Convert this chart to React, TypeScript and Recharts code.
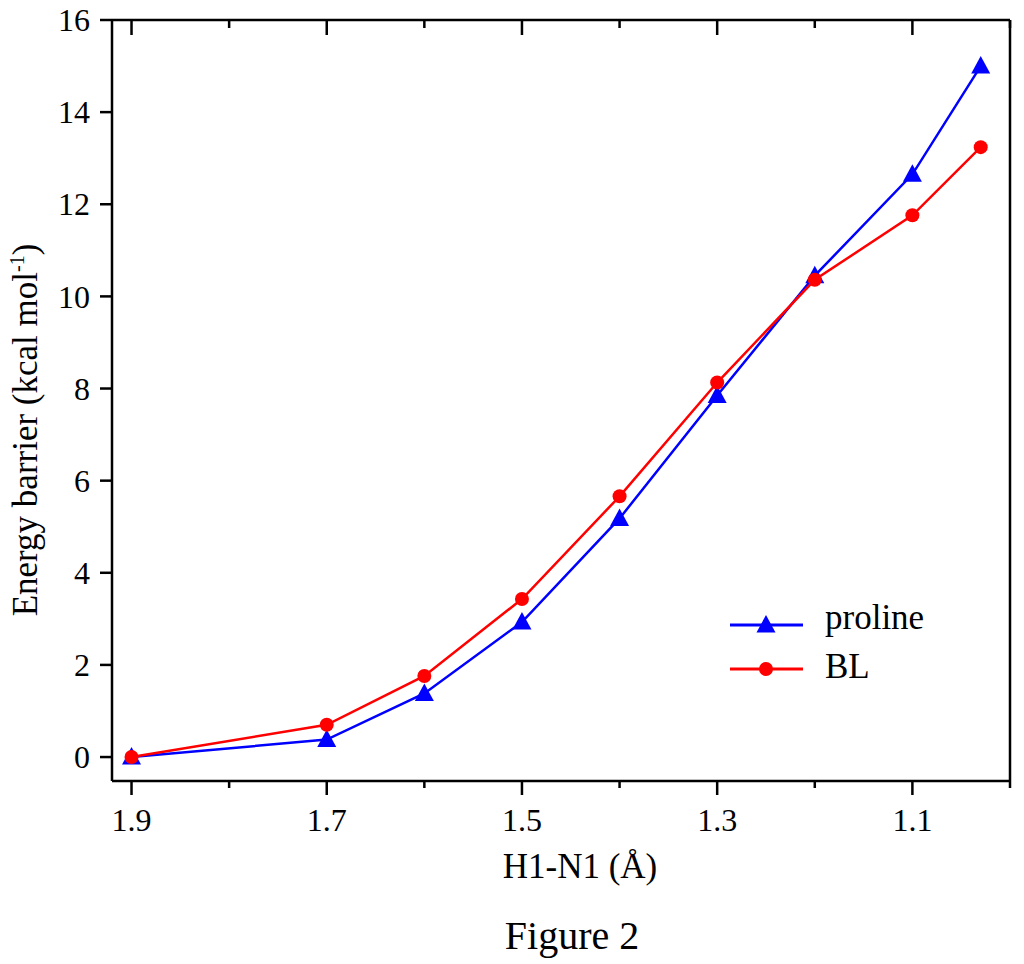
import { LineChart, Line, XAxis, YAxis } from "recharts";

// H1-N1 distance (Å)
const distances = [1.9, 1.7, 1.6, 1.5, 1.4, 1.3, 1.2, 1.1, 1.03];
const proline = [0, 0.38, 1.38, 2.93, 5.18, 7.85, 10.45, 12.65, 15.0];
const bl = [0, 0.7, 1.76, 3.43, 5.66, 8.13, 10.36, 11.76, 13.24];

const xTicks = [1.9, 1.8, 1.7, 1.6, 1.5, 1.4, 1.3, 1.2, 1.1, 1.0];
const yTicks = [0, 2, 4, 6, 8, 10, 12, 14, 16];

const series = [
  { key: "proline", name: "proline", color: "#0000ff", shape: "triangle" },
  { key: "bl", name: "BL", color: "#ff0000", shape: "circle" },
];

const data = distances.map((d, i) => ({ d, proline: proline[i], bl: bl[i] }));

const FONT = "'Liberation Serif', 'Times New Roman', serif";
const AXIS = { stroke: "#000", strokeWidth: 2.5 };

const isMajor = (v: number) => Math.round(v * 10) % 2 === 1;

function Marker({ shape, cx, cy, color }: any) {
  if (cx == null || cy == null) return null;
  if (shape === "triangle") {
    return (
      <polygon
        points={`${cx},${cy - 10} ${cx - 9.5},${cy + 7.5} ${cx + 9.5},${cy + 7.5}`}
        fill={color}
      />
    );
  }
  return <circle cx={cx} cy={cy} r={7} fill={color} />;
}

const BottomTick = ({ x, y, payload }: any) => {
  const major = isMajor(payload.value);
  return (
    <g>
      <line x1={x} y1={y} x2={x} y2={y + (major ? 14 : 7)} {...AXIS} />
      {major && (
        <text x={x} y={y + 50} textAnchor="middle" fontSize={32} fontFamily={FONT} fill="#000">
          {payload.value.toFixed(1)}
        </text>
      )}
    </g>
  );
};

const TopTick = ({ x, y, payload }: any) => (
  <line x1={x} y1={y} x2={x} y2={y + (isMajor(payload.value) ? 15 : 8)} {...AXIS} />
);

const LeftTick = ({ x, y, payload }: any) => (
  <g>
    <line x1={x - 12} y1={y} x2={x} y2={y} {...AXIS} />
    <text x={x - 22} y={y} dy="0.35em" textAnchor="end" fontSize={32} fontFamily={FONT} fill="#000">
      {payload.value}
    </text>
  </g>
);

const RightTick = ({ x, y }: any) => <line x1={x - 12} y1={y} x2={x} y2={y} {...AXIS} />;

export default function App() {
  return (
    <div style={{ position: "absolute", left: 0, top: 0, width: 1024, height: 964, background: "#fff" }}>
      <LineChart width={1024} height={964} data={data} margin={{ top: 19, right: 0, left: 0, bottom: 0 }}>
        <XAxis
          xAxisId="bottom"
          dataKey="d"
          type="number"
          domain={[1.0, 1.92]}
          reversed
          ticks={xTicks}
          interval={0}
          height={183}
          tickSize={0}
          tickMargin={0}
          tickLine={false}
          axisLine={AXIS}
          tick={<BottomTick />}
        />
        <XAxis
          xAxisId="top"
          orientation="top"
          dataKey="d"
          type="number"
          domain={[1.0, 1.92]}
          reversed
          ticks={xTicks}
          interval={0}
          height={1}
          tickSize={0}
          tickMargin={0}
          tickLine={false}
          axisLine={AXIS}
          tick={<TopTick />}
        />
        <YAxis
          yAxisId="left"
          type="number"
          domain={[-0.52, 16]}
          ticks={yTicks}
          interval={0}
          width={112}
          tickSize={0}
          tickMargin={0}
          tickLine={false}
          axisLine={AXIS}
          tick={<LeftTick />}
        />
        <YAxis
          yAxisId="right"
          orientation="right"
          type="number"
          domain={[-0.52, 16]}
          ticks={yTicks}
          interval={0}
          width={14}
          tickSize={0}
          tickMargin={0}
          tickLine={false}
          axisLine={AXIS}
          tick={<RightTick />}
        />
        {series.map((s) => (
          <Line
            key={s.key}
            xAxisId="bottom"
            yAxisId="left"
            type="linear"
            dataKey={s.key}
            name={s.name}
            stroke={s.color}
            strokeWidth={2.5}
            isAnimationActive={false}
            dot={(p: any) => (
              <Marker key={`${s.key}-${p.index}`} shape={s.shape} cx={p.cx} cy={p.cy} color={s.color} />
            )}
            activeDot={false}
          />
        ))}
      </LineChart>

      <svg
        width={1024}
        height={964}
        style={{ position: "absolute", left: 0, top: 0, pointerEvents: "none" }}
        fontFamily={FONT}
      >
        <text transform="translate(37 430) rotate(-90)" textAnchor="middle" fontSize={35} fill="#000">
          Energy barrier (kcal mol
          <tspan fontSize={20} dy={-13}>-1</tspan>
          <tspan dy={13}>)</tspan>
        </text>
        <text x={580} y={878} textAnchor="middle" fontSize={35} fill="#000">
          H1-N1 (Å)
        </text>
        <text x={572} y={949} textAnchor="middle" fontSize={40} fill="#000">
          Figure 2
        </text>
        {series.map((s, i) => {
          const ly = 625 + i * 44;
          return (
            <g key={s.key}>
              <line x1={730} y1={ly} x2={803} y2={ly} stroke={s.color} strokeWidth={3} />
              <Marker shape={s.shape} cx={766} cy={ly} color={s.color} />
              <text x={825} y={ly + (i === 0 ? 4 : 9)} fontSize={35} fill="#000">
                {s.name}
              </text>
            </g>
          );
        })}
      </svg>
    </div>
  );
}
